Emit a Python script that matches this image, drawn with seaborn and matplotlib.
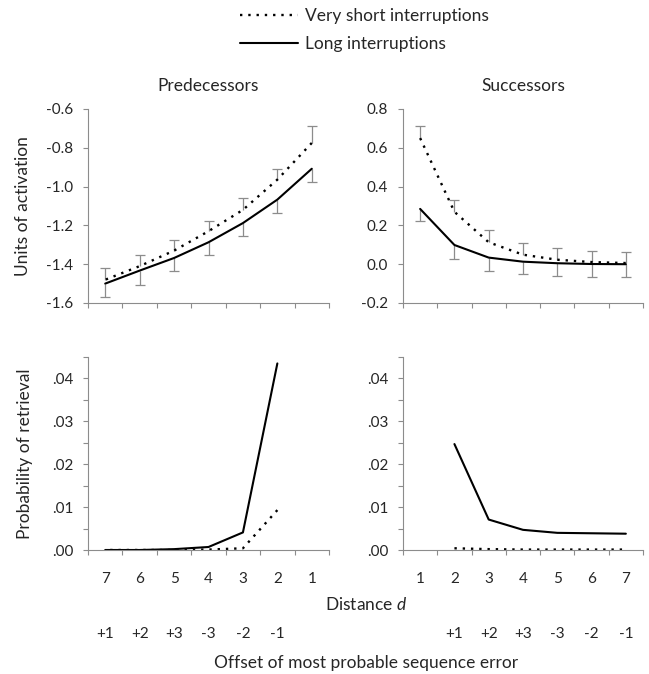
import numpy as np
import matplotlib
matplotlib.use("Agg")
import matplotlib.pyplot as plt
import seaborn as sns
from matplotlib.lines import Line2D
from matplotlib.ticker import FuncFormatter

# Distances and activation values
distance = [1, 2, 3, 4, 5, 6, 7]

pred_long = [-0.908, -1.067, -1.188, -1.287, -1.368, -1.433, -1.500]
pred_short = [-0.775, -0.964, -1.120, -1.230, -1.330, -1.410, -1.480]
pred_short_err = [0.086, 0.055, 0.061, 0.054, 0.056, 0.059, 0.060]
pred_long_err = [0.067, 0.069, 0.068, 0.067, 0.069, 0.074, 0.069]

succ_long = [0.285, 0.099, 0.034, 0.013, 0.005, 0.001, 0.000]
succ_short = [0.650, 0.270, 0.113, 0.049, 0.023, 0.011, 0.006]
succ_short_err = [0.061, 0.063, 0.062, 0.061, 0.060, 0.058, 0.058]
succ_long_err = [0.064, 0.070, 0.067, 0.066, 0.067, 0.065, 0.065]

# Probability of retrieval (no value at distance 1)
prob_distance = [2, 3, 4, 5, 6, 7]
pred_prob_long = [0.0435, 0.0041, 0.0007, 0.0002, 0.0, 0.0]
pred_prob_short = [0.0093, 0.0004, 0.0001, 0.0, 0.0, 0.0]
succ_prob_long = [0.0247, 0.0071, 0.0047, 0.0040, 0.0039, 0.0038]
succ_prob_short = [0.0004, 0.0002, 0.0001, 0.0001, 0.0001, 0.0001]

# Offset of most probable sequence error, under distances
pred_offset_pos = [7, 6, 5, 4, 3, 2]
succ_offset_pos = [2, 3, 4, 5, 6, 7]
offset_labels = ["+1", "+2", "+3", "-3", "-2", "-1"]

sns.set_theme(style="ticks")
plt.rcParams["font.family"] = ["Lato", "DejaVu Sans"]
plt.rcParams["axes.unicode_minus"] = False
plt.rcParams["mathtext.fontset"] = "custom"
plt.rcParams["mathtext.it"] = "Lato:italic"
plt.rcParams["mathtext.rm"] = "Lato"

W, H = 649, 674
fig = plt.figure(figsize=(W / 100, H / 100), dpi=100)


def add_axes(x0, y0, x1, y1):
    return fig.add_axes([x0 / W, 1 - y1 / H, (x1 - x0) / W, (y1 - y0) / H])


ax_tl = add_axes(88, 109, 329, 303)
ax_tr = add_axes(403, 109, 643, 303)
ax_bl = add_axes(88, 357, 329, 550)
ax_br = add_axes(403, 357, 643, 550)

gray = "#8c8c8c"
dots = (0, (1, 2.5))
fs = 11      # tick labels
fs_big = 12.5  # titles, axis labels, legend


def style_axis(ax, reverse, show_labels):
    if reverse:
        ax.set_xlim(7.5, 0.5)
    else:
        ax.set_xlim(0.5, 7.5)
    ax.set_xticks(distance)
    ax.set_xticks(np.arange(0.5, 8, 1), minor=True)
    ax.tick_params(axis="x", which="major", length=0, labelsize=fs, pad=16)
    ax.tick_params(axis="x", which="minor", length=3.6, width=0.8, color=gray)
    if not show_labels:
        ax.set_xticklabels([])
    ax.tick_params(axis="y", which="both", length=3.6, width=0.8, color=gray,
                   labelsize=fs, pad=7)
    for s in ["top", "right"]:
        ax.spines[s].set_visible(False)
    for s in ["left", "bottom"]:
        ax.spines[s].set_color(gray)
        ax.spines[s].set_linewidth(0.8)
    ax.set_xlabel("")
    ax.set_ylabel("")


def draw_errors(ax, y, err, up):
    zeros = [0] * len(err)
    yerr = [zeros, err] if up else [err, zeros]
    _, caps, _ = ax.errorbar(distance, y, yerr=yerr, fmt="none", ecolor=gray,
                             elinewidth=0.9, capsize=3.5, capthick=0.9, zorder=1)
    # hide the cap that sits on the data point
    caps[0 if up else 1].set_visible(False)


# Top panels: units of activation
for ax, short, long_, s_err, l_err in [
    (ax_tl, pred_short, pred_long, pred_short_err, pred_long_err),
    (ax_tr, succ_short, succ_long, succ_short_err, succ_long_err),
]:
    draw_errors(ax, short, s_err, up=True)
    draw_errors(ax, long_, l_err, up=False)
    sns.lineplot(x=distance, y=short, ax=ax, color="black", linestyle=dots,
                 linewidth=1.7, zorder=3)
    sns.lineplot(x=distance, y=long_, ax=ax, color="black", linewidth=1.5, zorder=3)

ax_tl.set_ylim(-1.6, -0.6)
ax_tl.set_yticks(np.arange(-1.6, -0.55, 0.2))
ax_tr.set_ylim(-0.2, 0.8)
ax_tr.set_yticks(np.arange(-0.2, 0.85, 0.2))
for ax in [ax_tl, ax_tr]:
    ax.yaxis.set_major_formatter(FuncFormatter(lambda v, p: f"{v:.1f}"))

style_axis(ax_tl, True, False)
style_axis(ax_tr, False, False)
ax_tl.set_title("Predecessors", fontsize=fs_big, pad=13)
ax_tr.set_title("Successors", fontsize=fs_big, pad=13)

# Bottom panels: probability of retrieval
for ax, short, long_ in [
    (ax_bl, pred_prob_short, pred_prob_long),
    (ax_br, succ_prob_short, succ_prob_long),
]:
    sns.lineplot(x=prob_distance, y=short, ax=ax, color="black", linestyle=dots,
                 linewidth=1.7)
    sns.lineplot(x=prob_distance, y=long_, ax=ax, color="black", linewidth=1.5)
    ax.set_ylim(0, 0.045)
    ax.set_yticks(np.arange(0, 0.041, 0.01))
    ax.set_yticks(np.arange(0, 0.046, 0.005), minor=True)
    ax.yaxis.set_major_formatter(FuncFormatter(lambda v, p: f"{v:.2f}".lstrip("0")))

style_axis(ax_bl, True, True)
style_axis(ax_br, False, True)

# Offset labels under the distance ticks
off_y = -(634 - 550) / 193
for ax, pos in [(ax_bl, pred_offset_pos), (ax_br, succ_offset_pos)]:
    for x, lab in zip(pos, offset_labels):
        ax.text(x, off_y, lab, transform=ax.get_xaxis_transform(),
                ha="center", va="center", fontsize=fs)

fig.text(23 / W, 1 - 206 / H, "Units of activation", rotation=90,
         ha="center", va="center", fontsize=fs_big)
fig.text(25 / W, 1 - 454 / H, "Probability of retrieval", rotation=90,
         ha="center", va="center", fontsize=fs_big)
fig.text(366 / W, 1 - 604 / H, "Distance $d$", ha="center", va="center",
         fontsize=fs_big)
fig.text(366 / W, 1 - 663 / H, "Offset of most probable sequence error",
         ha="center", va="center", fontsize=fs_big)

handles = [
    Line2D([], [], color="black", linestyle=dots, linewidth=1.7),
    Line2D([], [], color="black", linewidth=1.5),
]
fig.legend(handles, ["Very short interruptions", "Long interruptions"],
           loc="upper left", bbox_to_anchor=(240 / W, 1 - 8 / H), frameon=False,
           fontsize=fs_big, handlelength=3.33, handletextpad=0.4,
           labelspacing=0.72, borderpad=0, borderaxespad=0)

fig.savefig("out.png", dpi=100)
